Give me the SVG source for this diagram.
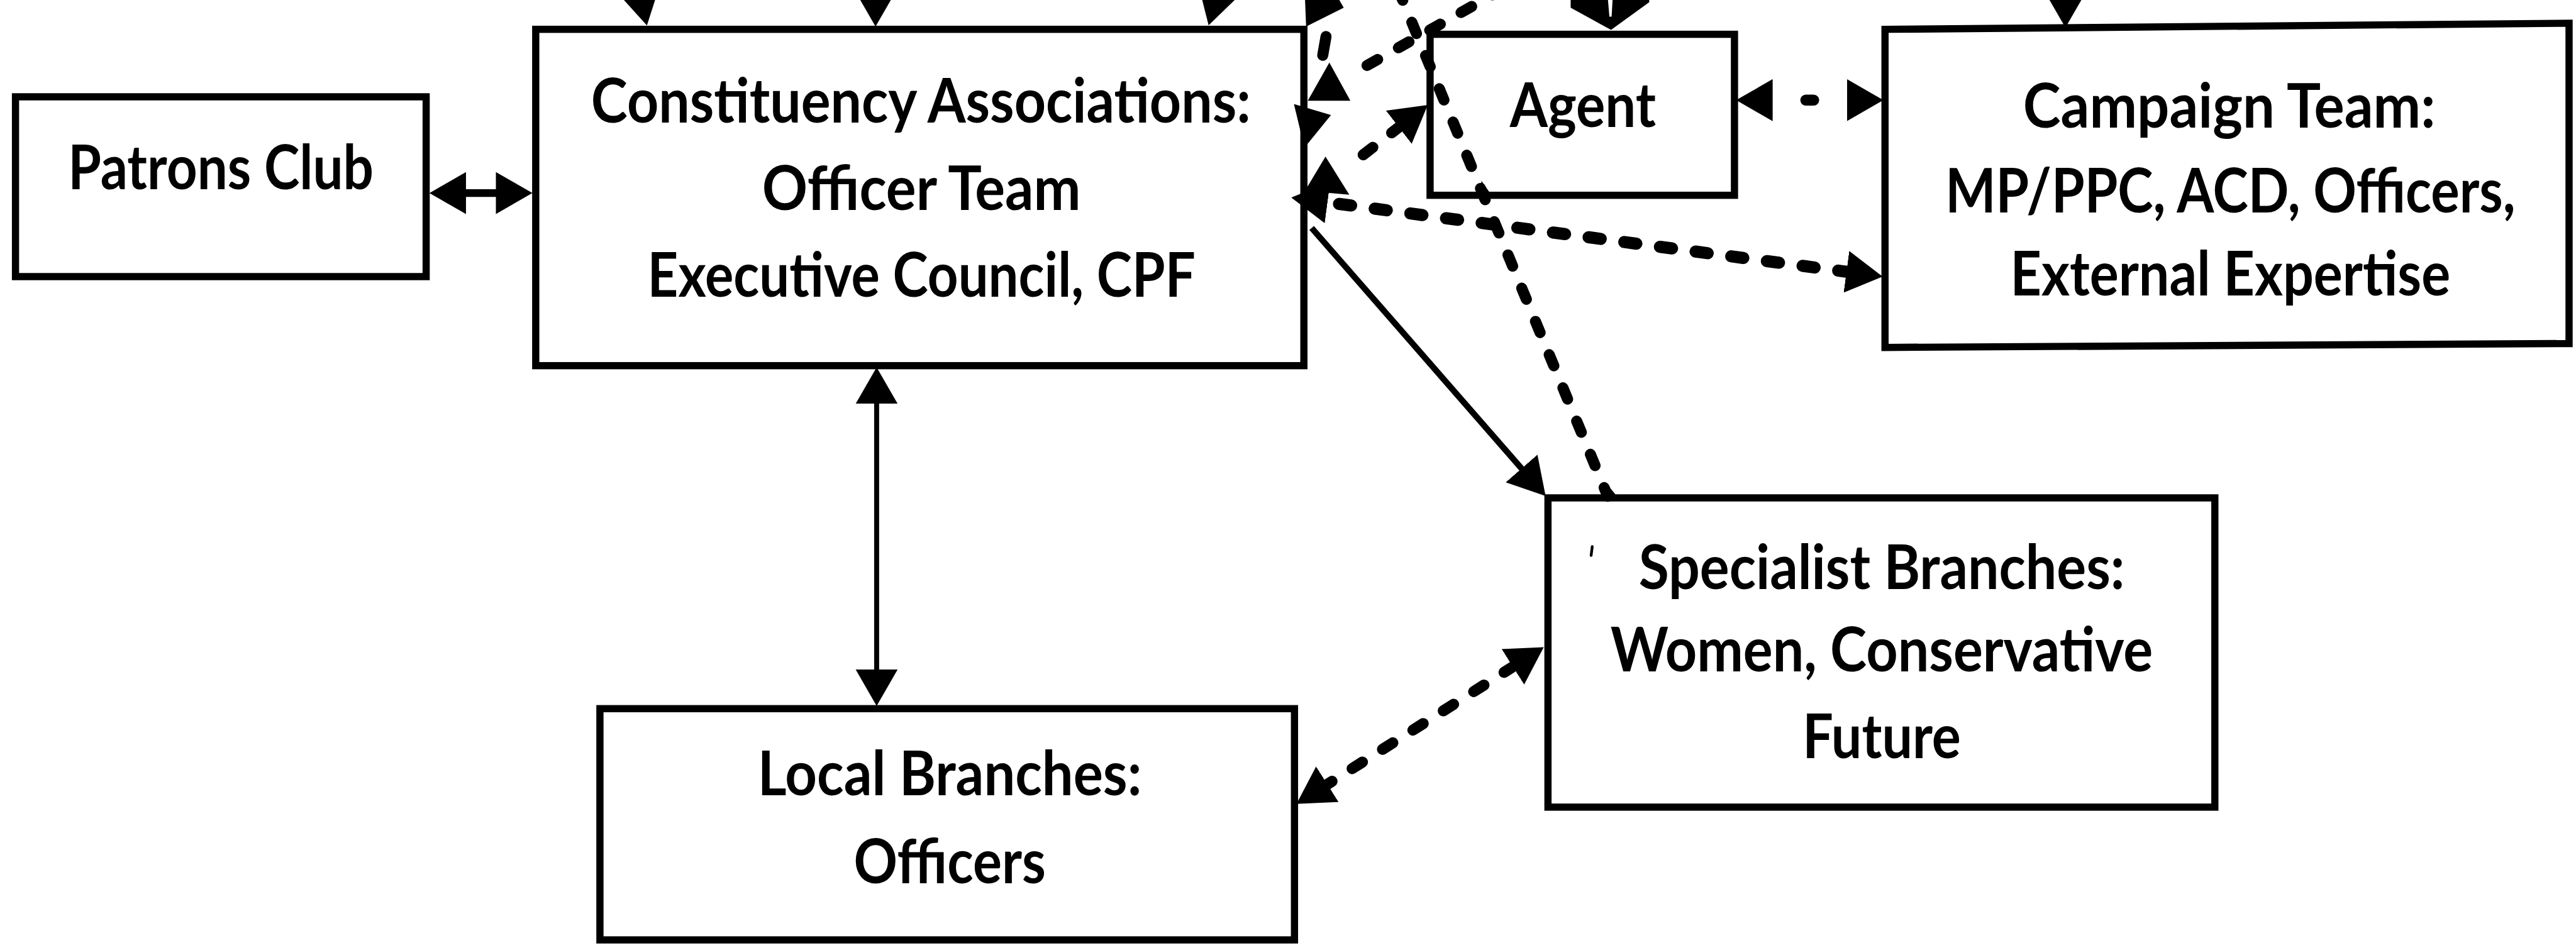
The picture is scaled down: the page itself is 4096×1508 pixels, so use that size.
<svg xmlns="http://www.w3.org/2000/svg" width="4096" height="1508" viewBox="0 0 4096 1508">
<style>
.box{fill:#fff;stroke:#000;stroke-width:13;stroke-linejoin:miter}
.t{font-family:Lato,"Open Sans","Liberation Sans",sans-serif;font-weight:700;font-size:112px;fill:#000;text-anchor:middle}
.solid{fill:none;stroke:#000;stroke-width:11}
.dash{fill:none;stroke:#000;stroke-width:20;stroke-linecap:round;stroke-dasharray:22 43}
.blob{fill:#000;stroke:none}
</style>
<defs>
<marker id="ah" markerUnits="userSpaceOnUse" viewBox="0 0 66 76" markerWidth="66" markerHeight="76" refX="36" refY="38" orient="auto-start-reverse">
<path d="M0,0 L66,38 L0,76 z" fill="#000"/>
</marker>
</defs>
<rect width="4096" height="1508" fill="#fff"/>
<g transform="scale(0.88)">
<g id="connectors">
<path class="solid" d="M806,349 H932" style="stroke-width:14" marker-start="url(#ah)" marker-end="url(#ah)"/>
<path class="solid" d="M1584,694 V1246" style="stroke-width:9" marker-start="url(#ah)" marker-end="url(#ah)"/>
<path class="solid" d="M2370,412 L2773,874" marker-end="url(#ah)"/>
<path class="solid" d="M1105,-250 L1162.6,16.7" marker-end="url(#ah)"/>
<path class="solid" d="M1582,-250 V18" marker-end="url(#ah)"/>
<path class="solid" d="M2266,-243 L2192,17" marker-end="url(#ah)"/>
<path class="solid" d="M3732,-250 V20" marker-end="url(#ah)"/>
<polygon class="blob" points="2838,-5 2980,-5 2980,4 2911,54 2838,14"/>
<polygon points="2905,-5 2914,-5 2912,30 2908,30" fill="#fff"/>
<path class="dash" d="M3167,181 H3373" style="stroke-dasharray:14 192;stroke-dashoffset:110" marker-start="url(#ah)" marker-end="url(#ah)"/>
<path class="dash" d="M2363,361 L3372,496" style="stroke-width:22;stroke-dashoffset:8" marker-start="url(#ah)" marker-end="url(#ah)"/>
<path class="dash" d="M2437,300 L2556,208" style="stroke-dashoffset:32" marker-end="url(#ah)"/>
<polygon class="blob" points="2395,283 2438,352 2358,345"/>
<path class="dash" d="M2437,137 L2742,-35" style="stroke-dashoffset:27"/>
<polygon class="blob" points="2402,113 2440,182 2363,182"/>
<path class="solid" d="M2396,66 L2390,100" style="stroke-width:20;stroke-linecap:round"/>
<polygon class="blob" points="2338,188 2405,208 2357,267"/>
<polygon class="blob" points="2358,-2 2420,0 2428,14 2360,48"/>
<path class="dash" d="M2905,897 L2522,-30" style="stroke-dashoffset:5"/>
<polygon class="blob" points="2673,354 2677,327 2693,350"/>
<polygon class="blob" points="2896,897 2900,871 2920,895"/>
<path class="dash" d="M2368,1437 L2764,1186" style="stroke-dashoffset:41" marker-start="url(#ah)" marker-end="url(#ah)"/>
</g>
<g id="patrons">
<rect class="box" x="28" y="175" width="742" height="325"/>
<text class="t" x="399" y="342" textLength="552" lengthAdjust="spacingAndGlyphs">Patrons Club</text>
</g>
<g id="constituency">
<rect class="box" x="968" y="53" width="1388" height="608" style="fill:none"/>
<text class="t" x="1664" y="222" textLength="1192" lengthAdjust="spacingAndGlyphs">Constituency Associations:</text>
<text class="t" x="1665" y="379" textLength="576" lengthAdjust="spacingAndGlyphs">Officer Team</text>
<text class="t" x="1665" y="536" textLength="990" lengthAdjust="spacingAndGlyphs">Executive Council, CPF</text>
</g>
<g id="agent">
<rect class="box" x="2584" y="62" width="550" height="291" style="fill:none"/>
<text class="t" x="2860" y="230" textLength="264" lengthAdjust="spacingAndGlyphs">Agent</text>
</g>
<g id="campaign">
<polygon class="box" points="3406,53 4642,42 4642,621 3406,628" style="fill:none"/>
<text class="t" x="4028" y="231" textLength="745" lengthAdjust="spacingAndGlyphs">Campaign Team:</text>
<text class="t" x="4030" y="384" textLength="1030" lengthAdjust="spacingAndGlyphs">MP/PPC, ACD, Officers,</text>
<text class="t" x="4030" y="534" textLength="795" lengthAdjust="spacingAndGlyphs">External Expertise</text>
</g>
<g id="local">
<rect class="box" x="1084" y="1281" width="1255" height="418"/>
<text class="t" x="1716" y="1437" textLength="694" lengthAdjust="spacingAndGlyphs">Local Branches:</text>
<text class="t" x="1716" y="1597" textLength="347" lengthAdjust="spacingAndGlyphs">Officers</text>
</g>
<g id="specialist">
<rect class="box" x="2797" y="900" width="1205" height="559" style="fill:none"/>
<path d="M2877,988 L2875,1004" stroke="#000" stroke-width="5" stroke-linecap="round"/>
<text class="t" x="3400" y="1065" textLength="878" lengthAdjust="spacingAndGlyphs">Specialist Branches:</text>
<text class="t" x="3400" y="1214" textLength="980" lengthAdjust="spacingAndGlyphs">Women, Conservative</text>
<text class="t" x="3400" y="1370" textLength="286" lengthAdjust="spacingAndGlyphs">Future</text>
</g>
</g>
</svg>
